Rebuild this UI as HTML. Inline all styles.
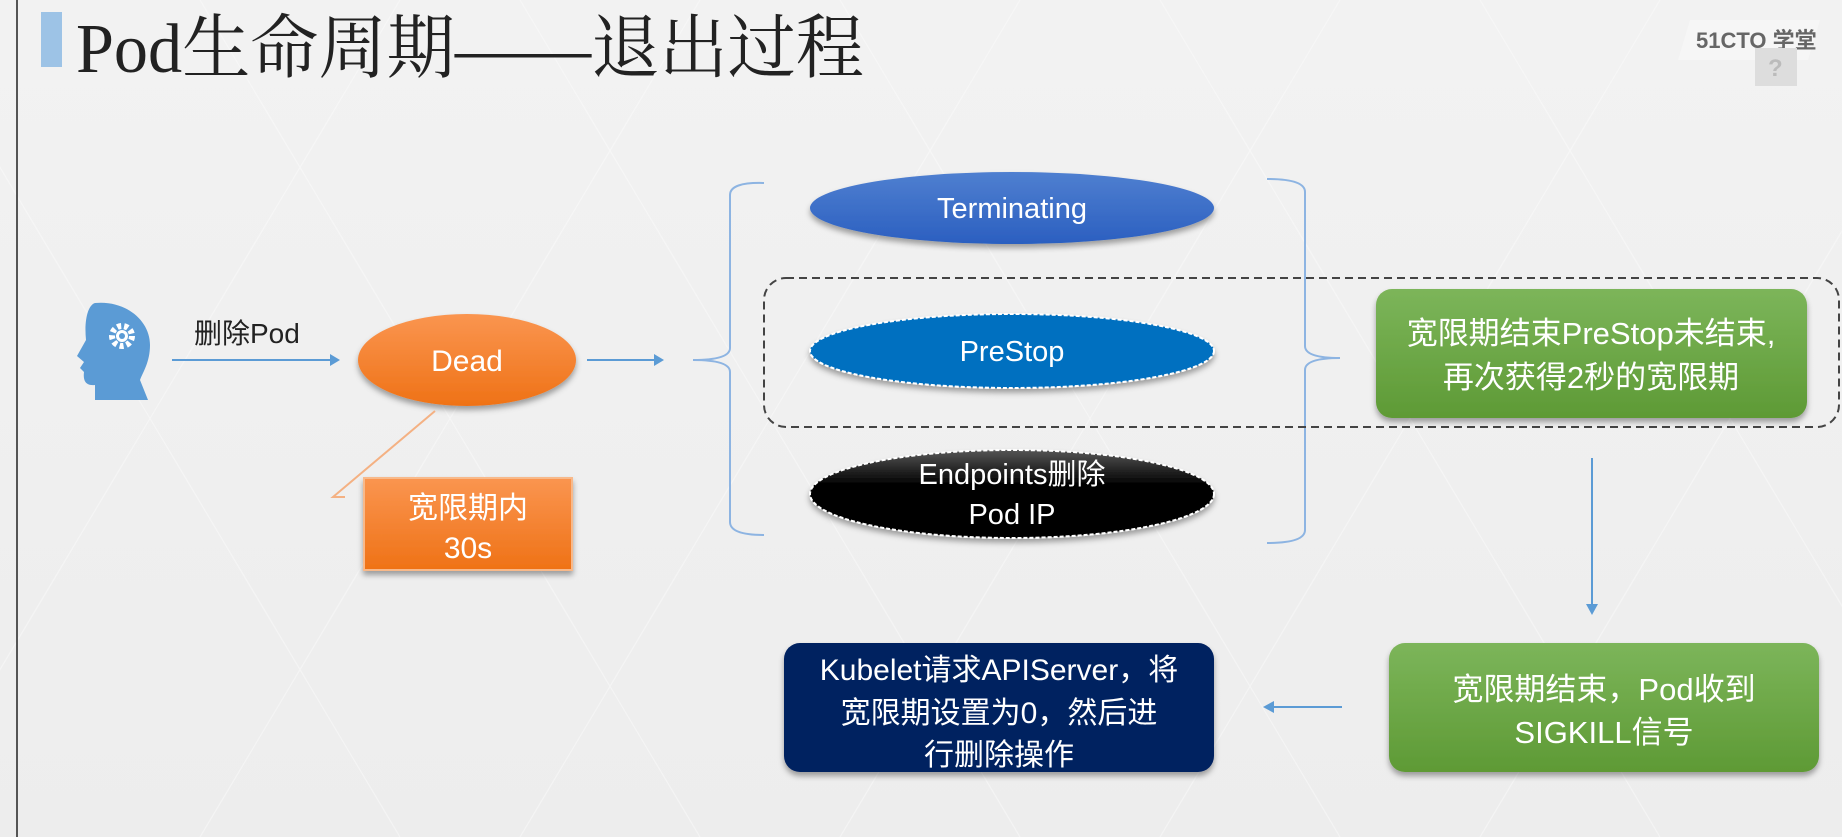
<!DOCTYPE html>
<html><head><meta charset="utf-8"><style>
html,body{margin:0;padding:0;width:1842px;height:837px;overflow:hidden;background:#f0f0f0}
svg{display:block}
text{font-family:"Liberation Sans","Noto Sans CJK SC",sans-serif}
</style></head><body>
<svg width="1842" height="837" viewBox="0 0 1842 837" xmlns="http://www.w3.org/2000/svg">
<defs>
<linearGradient id="bg" x1="0" y1="0" x2="0" y2="1"><stop offset="0" stop-color="#f2f2f2"/><stop offset="1" stop-color="#ededed"/></linearGradient>
<linearGradient id="blue" x1="0" y1="0" x2="0" y2="1"><stop offset="0" stop-color="#4f7fd0"/><stop offset="1" stop-color="#2b5fc0"/></linearGradient>
<linearGradient id="orange" x1="0" y1="0" x2="0" y2="1"><stop offset="0" stop-color="#fa9550"/><stop offset="1" stop-color="#ef7216"/></linearGradient>
<linearGradient id="green" x1="0" y1="0" x2="0" y2="1"><stop offset="0" stop-color="#7cb55a"/><stop offset="1" stop-color="#5e9a35"/></linearGradient>
<linearGradient id="black" x1="0" y1="0" x2="0" y2="1"><stop offset="0" stop-color="#555"/><stop offset="0.4" stop-color="#000"/><stop offset="1" stop-color="#000"/></linearGradient>
<filter id="sh" x="-10%" y="-10%" width="120%" height="130%"><feDropShadow dx="0" dy="4" stdDeviation="3" flood-color="#000" flood-opacity="0.35"/></filter>
</defs>
<rect width="1842" height="837" fill="url(#bg)"/>
<g stroke="#fbfbfb" stroke-width="1.2" opacity="0.5" fill="none">
<path d="M-100 0 L400 837 M200 0 L700 837 M520 0 L1020 837 M840 0 L1340 837 M1160 0 L1660 837 M1480 0 L1980 837"/>
<path d="M400 0 L-100 837 M700 0 L200 837 M1020 0 L520 837 M1340 0 L840 837 M1660 0 L1160 837 M1980 0 L1480 837"/>
</g>
<line x1="17" y1="0" x2="17" y2="837" stroke="#555" stroke-width="2"/>
<rect x="41" y="12" width="21" height="55" fill="#9dc3e6"/>
<text x="76" y="72" font-size="70" fill="#222" textLength="788" lengthAdjust="spacingAndGlyphs" style="font-family:'Liberation Serif','Noto Serif CJK SC',serif">Pod生命周期——退出过程</text>
<!-- logo -->
<path d="M1690 20 L1820 20 L1808 60 L1678 60 Z" fill="#f6f6f6"/>
<text x="1696" y="48" font-size="22" font-weight="bold" fill="#666">51CTO 学堂</text>
<rect x="1755" y="48" width="42" height="38" fill="#ddd"/>
<text x="1768" y="76" font-size="24" font-weight="bold" fill="#bbb">?</text>
<!-- head icon -->
<path d="M95 303 C125 300 150 320 150 345 C150 362 143 372 140 380 L148 400 L95 400 L95 385 C85 386 83 380 84 372 L80 368 L84 362 L77 356 L86 340 C84 320 88 305 95 303 Z" fill="#5b9bd5"/>
<circle cx="122" cy="336" r="10" fill="none" stroke="#fff" stroke-width="6" stroke-dasharray="4 3"/>
<circle cx="122" cy="336" r="6" fill="#fff"/><circle cx="122" cy="336" r="3" fill="#5b9bd5"/>
<text x="194" y="343" font-size="28" fill="#222">删除Pod</text>
<g stroke="#5b9bd5" stroke-width="2" fill="#5b9bd5">
<line x1="172" y1="360" x2="332" y2="360"/><path d="M340 360 L330 354 L330 366 Z" stroke="none"/>
<line x1="587" y1="360" x2="656" y2="360"/><path d="M664 360 L654 354 L654 366 Z" stroke="none"/>
<line x1="1592" y1="458" x2="1592" y2="606"/><path d="M1592 615 L1586 604 L1598 604 Z" stroke="none"/>
<line x1="1342" y1="707" x2="1272" y2="707"/><path d="M1263 707 L1274 701 L1274 713 Z" stroke="none"/>
</g>
<!-- braces -->
<path d="M764 183 Q730 182 730 195 L730 348 Q730 360 693 360 Q730 360 730 372 L730 522 Q730 535 764 535" fill="none" stroke="#8db4e2" stroke-width="2"/>
<path d="M1267 179 Q1305 179 1305 192 L1305 346 Q1305 358 1340 358 Q1305 358 1305 370 L1305 530 Q1305 543 1267 543" fill="none" stroke="#8db4e2" stroke-width="2"/>
<!-- Dead -->
<ellipse cx="467" cy="360" rx="109" ry="46" fill="url(#orange)" filter="url(#sh)"/>
<text x="467" y="371" font-size="30" fill="#fff" text-anchor="middle">Dead</text>
<path d="M435 411 L333 497 L345 497" fill="none" stroke="#f4b183" stroke-width="2"/>
<rect x="364" y="478" width="208" height="92" fill="url(#orange)" stroke="#f8b98a" stroke-width="2" filter="url(#sh)"/>
<text x="468" y="518" font-size="30" fill="#fff" text-anchor="middle">宽限期内</text>
<text x="468" y="558" font-size="30" fill="#fff" text-anchor="middle">30s</text>
<!-- ellipses -->
<ellipse cx="1012" cy="208" rx="202" ry="36" fill="url(#blue)" filter="url(#sh)"/>
<text x="1012" y="218" font-size="29" fill="#fff" text-anchor="middle">Terminating</text>
<rect x="764" y="278" width="1075" height="149" rx="22" fill="none" stroke="#444" stroke-width="2" stroke-dasharray="8 5"/>
<ellipse cx="1012" cy="351" rx="202" ry="37" fill="#0070c0" stroke="#fff" stroke-width="2" stroke-dasharray="4 2" filter="url(#sh)"/>
<text x="1012" y="361" font-size="29" fill="#fff" text-anchor="middle">PreStop</text>
<ellipse cx="1012" cy="494" rx="202" ry="44" fill="url(#black)" stroke="#fff" stroke-width="2" stroke-dasharray="4 2" filter="url(#sh)"/>
<text x="1012" y="484" font-size="29" fill="#fff" text-anchor="middle">Endpoints删除</text>
<text x="1012" y="524" font-size="29" fill="#fff" text-anchor="middle">Pod IP</text>
<!-- green boxes -->
<rect x="1376" y="289" width="431" height="129" rx="16" fill="url(#green)" filter="url(#sh)"/>
<text x="1591" y="344" font-size="31" fill="#fff" text-anchor="middle">宽限期结束PreStop未结束,</text>
<text x="1591" y="388" font-size="31" fill="#fff" text-anchor="middle">再次获得2秒的宽限期</text>
<rect x="1389" y="643" width="430" height="129" rx="16" fill="url(#green)" filter="url(#sh)"/>
<text x="1604" y="700" font-size="31" fill="#fff" text-anchor="middle">宽限期结束，Pod收到</text>
<text x="1604" y="743" font-size="31" fill="#fff" text-anchor="middle">SIGKILL信号</text>
<rect x="784" y="643" width="430" height="129" rx="16" fill="#002060" filter="url(#sh)"/>
<text x="999" y="680" font-size="30" fill="#fff" text-anchor="middle">Kubelet请求APIServer，将</text>
<text x="999" y="723" font-size="30" fill="#fff" text-anchor="middle">宽限期设置为0，然后进</text>
<text x="999" y="765" font-size="30" fill="#fff" text-anchor="middle">行删除操作</text>
</svg>
</body></html>
